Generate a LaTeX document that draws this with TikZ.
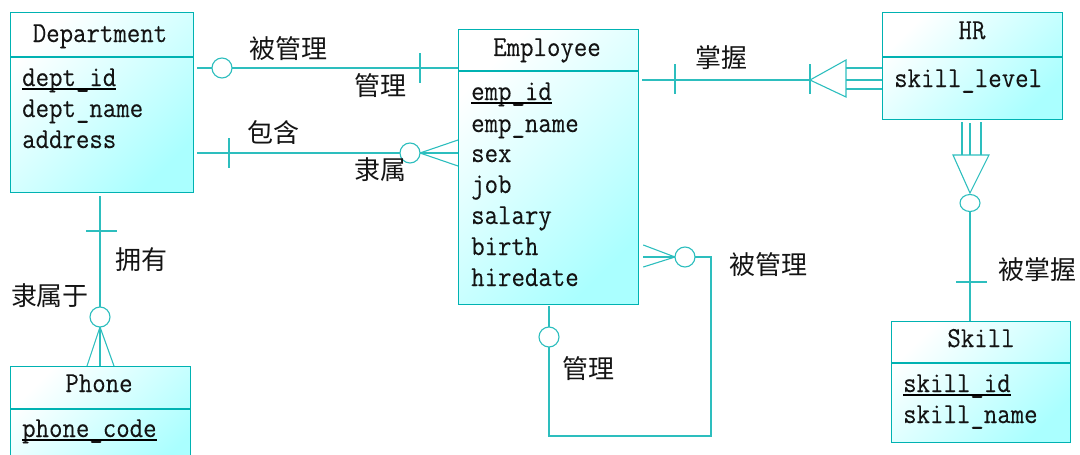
\documentclass[tikz,border=0pt]{standalone}
\usepackage{fontspec}
\setmonofont[FakeStretch=0.9,FakeBold=0.12]{Latin Modern Mono}
\newfontfamily\cjk{Noto Sans CJK SC}
\usetikzlibrary{calc}
\definecolor{bd}{RGB}{0,178,178}
\definecolor{ln}{RGB}{45,190,190}
\definecolor{fc}{RGB}{170,255,255}
\definecolor{txt}{RGB}{20,20,20}
\begin{document}
\begin{tikzpicture}[x=1pt,y=-1pt,
  entity/.style={draw=bd, line width=1.3pt, inner sep=0pt, anchor=north west,
    top color=white, bottom color=fc, shading angle=45},
  divider/.style={draw=bd, line width=1.1pt},
  attr/.style={anchor=base west, inner sep=0pt, text=txt,
    font=\ttfamily\fontsize{29}{29}\selectfont},
  etitle/.style={anchor=base, inner sep=0pt, text=txt,
    font=\ttfamily\fontsize{29}{29}\selectfont},
  keyline/.style={draw=black, line width=1.5pt},
  lab/.style={inner sep=0pt, text=txt, font=\cjk\fontsize{26}{26}\selectfont},
  conn/.style={draw=ln, line width=1.1pt},
  ring/.style={draw=ln, line width=1.1pt, fill=white}
]
\useasboundingbox (0,0) rectangle (1080,455);
\clip (0,0) rectangle (1080,455);

% ---------- entities ----------
\node[entity, minimum width=183pt, minimum height=180pt] (dept) at (10,12) {};
\node[entity, minimum width=180pt, minimum height=275pt] (emp) at (458,29) {};
\node[entity, minimum width=180pt, minimum height=107pt] (hr) at (882,12) {};
\node[entity, minimum width=180pt, minimum height=110pt] (phone) at (10,366) {};
\node[entity, minimum width=179pt, minimum height=121pt] (skill) at (891,321) {};

\draw[divider] ($(dept.north west)+(0,45)$) -- ($(dept.north east)+(0,45)$);
\draw[divider] ($(emp.north west)+(0,42)$) -- ($(emp.north east)+(0,42)$);
\draw[divider] ($(hr.north west)+(0,45)$) -- ($(hr.north east)+(0,45)$);
\draw[divider] ($(phone.north west)+(0,43)$) -- ($(phone.north east)+(0,43)$);
\draw[divider] ($(skill.north west)+(0,42)$) -- ($(skill.north east)+(0,42)$);

% ---------- entity texts ----------
\node[etitle] (deptT) at (100,42) {Department};
\node[attr] (did) at (22,86) {dept\_id};
\node[attr] (dname) at (22,117) {dept\_name};
\node[attr] (daddr) at (22,148) {address};
\draw[keyline] ($(did.base west)+(0,3)$) -- ($(did.base east)+(0,3)$);

\node[etitle] (empT) at (547,56) {Employee};
\node[attr] (eid) at (471,100) {emp\_id};
\node[attr] (ename) at (471,132) {emp\_name};
\node[attr] (esex) at (471,162) {sex};
\node[attr] (ejob) at (471,193) {job};
\node[attr] (esal) at (471,224) {salary};
\node[attr] (ebir) at (471,255) {birth};
\node[attr] (ehire) at (471,286) {hiredate};
\draw[keyline] ($(eid.base west)+(0,3)$) -- ($(eid.base east)+(0,3)$);

\node[etitle] (hrT) at (972,39) {HR};
\node[attr] (hskill) at (894,87) {skill\_level};

\node[etitle] (phT) at (99,392) {Phone};
\node[attr] (pcode) at (22,437) {phone\_code};
\draw[keyline] ($(pcode.base west)+(0,3)$) -- ($(pcode.base east)+(0,3)$);

\node[etitle] (skT) at (981,347) {Skill};
\node[attr] (sid) at (903,392) {skill\_id};
\node[attr] (sname) at (903,423) {skill\_name};
\draw[keyline] ($(sid.base west)+(0,3)$) -- ($(sid.base east)+(0,3)$);

% ---------- connector end points ----------
\coordinate (d1) at ($(dept.north east)+(3,56)$);
\coordinate (e1) at ($(emp.north west)+(0,39)$);
\coordinate (d2) at ($(dept.north east)+(3,141)$);
\coordinate (e2) at ($(emp.north west)+(0,124)$);
\coordinate (d3) at ($(dept.south west)+(90,3)$);
\coordinate (p3) at ($(phone.north west)+(90,0)$);
\coordinate (e4) at ($(emp.north east)+(3,51)$);
\coordinate (h4) at ($(hr.north west)+(0,68)$);
\coordinate (h5) at ($(hr.south west)+(88,3)$);
\coordinate (s5) at ($(skill.north west)+(79,0)$);
\coordinate (e6) at ($(emp.north east)+(4,228)$);
\coordinate (e7) at ($(emp.south west)+(91,1)$);

% ---------- Department -- Employee (manage) ----------
\draw[conn] (d1) -- (e1);
\draw[ring] (222,68) circle (10);
\draw[conn] (420,53) -- (420,83);
\node[lab] (l1) at (288,49) {被管理};
\node[lab] (l2) at (380,86) {管理};

% ---------- Department -- Employee (contain) ----------
\draw[conn] (d2) -- (e2);
\draw[conn] (229,138) -- (229,168);
\draw[conn] (420,153) -- (e2 |- 0,140);
\draw[conn] (420,153) -- (e2 |- 0,166);
\draw[ring] (410,153) circle (10);
\node[lab] (l3) at (273,133) {包含};
\node[lab] (l4) at (380,170) {隶属};

% ---------- Department -- Phone ----------
\draw[conn] (d3) -- (p3);
\draw[conn] (86,231) -- (117,231);
\draw[conn] (100,327) -- ($(p3)+(-13,0)$);
\draw[conn] (100,327) -- ($(p3)+(14,0)$);
\draw[ring] (100,317) circle (10);
\node[lab] (l5) at (141,260) {拥有};
\node[lab] (l6) at (50,296) {隶属于};

% ---------- Employee -- HR ----------
\draw[conn] (e4) -- (810,80);
\draw[conn] (675,64) -- (675,94);
\draw[conn] (810,64) -- (810,94);
\draw[conn] (810,80) -- (846,60) -- (846,97) -- cycle;
\draw[conn] (846,68) -- (h4 |- 0,68);
\draw[conn] (846,80) -- (h4);
\draw[conn] (846,89) -- (h4 |- 0,89);
\node[lab] (l7) at (721,58) {掌握};

% ---------- HR -- Skill ----------
\draw[conn] (962,122) -- (962,155);
\draw[conn] (h5) -- (970,155);
\draw[conn] (981,122) -- (981,155);
\draw[conn] (953,155) -- (989,155) -- (970,193) -- cycle;
\draw[conn] (970,211) -- (s5);
\draw[ring] (970,203) ellipse (10 and 8.5);
\draw[conn] (956,282) -- (987,282);
\node[lab] (l8) at (1037,270) {被掌握};

% ---------- Employee self relation ----------
\draw[conn] (e6) -- (675,257);
\draw[conn] ($(e6)+(0,-12)$) -- (675,257);
\draw[conn] ($(e6)+(0,10)$) -- (675,257);
\draw[conn] (695,257) -- (711,257) -- (711,436) -- (549,436) -- (549,347);
\draw[ring] (685,257) circle (10);
\draw[conn] (e7) -- (549,327);
\draw[ring] (549,337) circle (10);
\node[lab] (l9) at (768,265) {被管理};
\node[lab] (l10) at (588,369) {管理};
\end{tikzpicture}
\end{document}
